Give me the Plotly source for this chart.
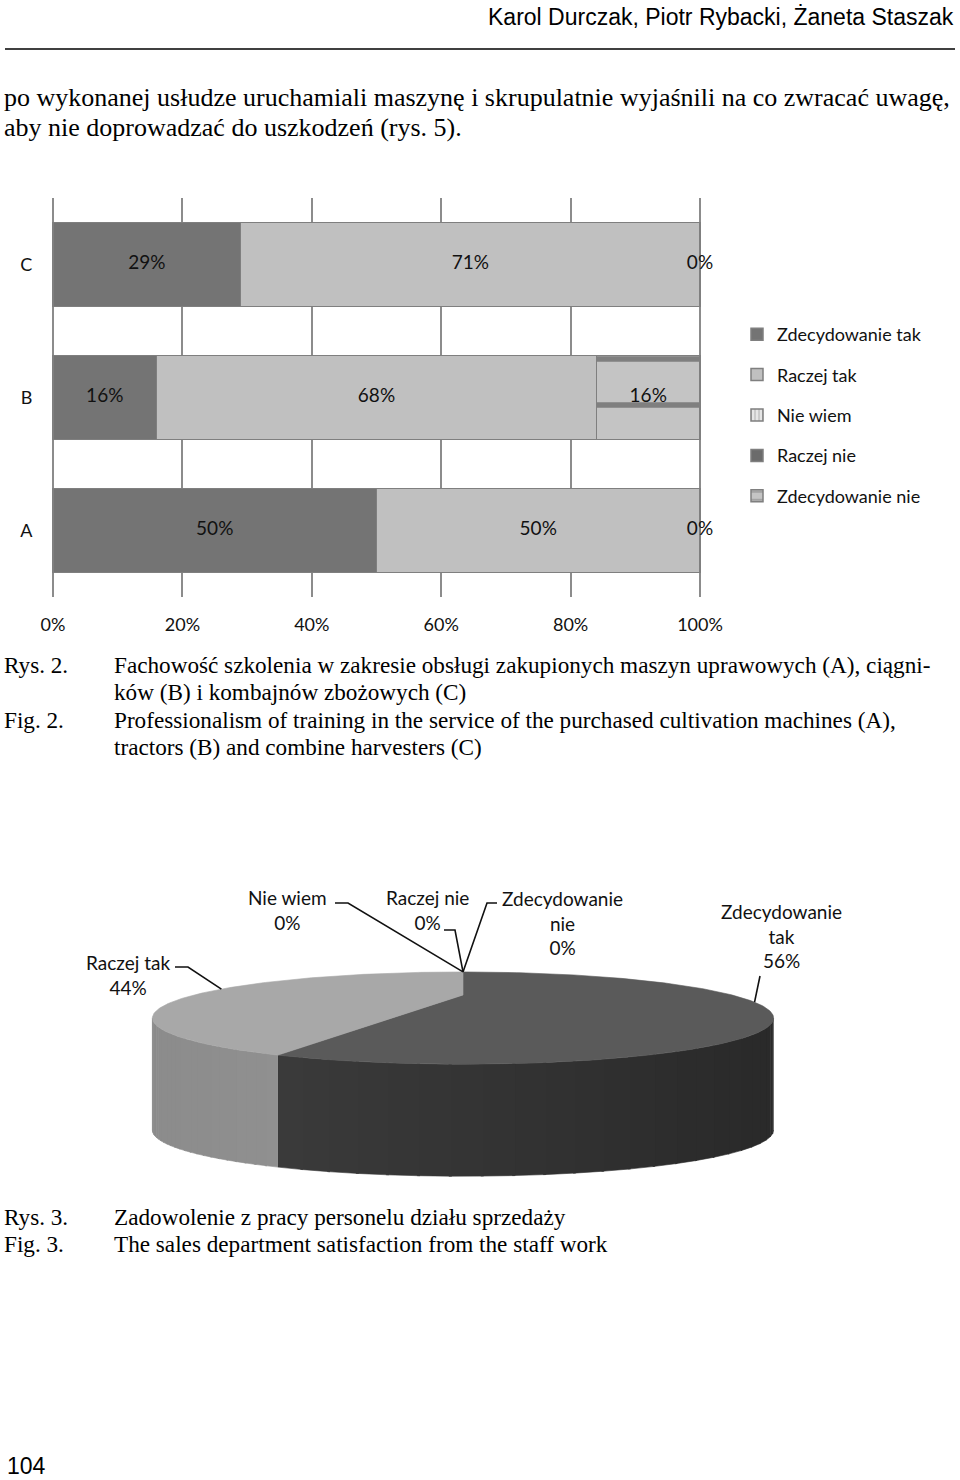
import numpy as np
import plotly.graph_objects as go

# ---------------- data ----------------
categories = ["A", "B", "C"]
series_names = ["Zdecydowanie tak", "Raczej tak", "Nie wiem", "Raczej nie", "Zdecydowanie nie"]
zdecydowanie_tak = [50, 16, 29]
raczej_tak = [50, 68, 71]
nie_wiem = [0, 0, 0]
raczej_nie = [0, 0, 0]
zdecydowanie_nie = [0, 16, 0]
labelled_series = ["Zdecydowanie tak", "Raczej tak", "Zdecydowanie nie"]
x_tick_values = [0, 20, 40, 60, 80, 100]
x_tick_labels = ["0%", "20%", "40%", "60%", "80%", "100%"]

pie_labels = ["Zdecydowanie tak", "Raczej tak", "Nie wiem", "Raczej nie", "Zdecydowanie nie"]
pie_values = [56, 44, 0, 0, 0]

header_text = "Karol Durczak, Piotr Rybacki, Żaneta Staszak"
body_lines = ["po wykonanej usłudze uruchamiali maszynę i skrupulatnie wyjaśnili na co zwracać uwagę,",
              "aby nie doprowadzać do uszkodzeń (rys. 5)."]
fig2_caption = ["Fachowość szkolenia w zakresie obsługi zakupionych maszyn uprawowych (A), ciągni-",
                "ków (B) i kombajnów zbożowych (C)",
                "Professionalism of training in the service of the purchased cultivation machines (A),",
                "tractors (B) and combine harvesters (C)"]
fig3_caption = ["Zadowolenie z pracy personelu działu sprzedaży",
                "The sales department satisfaction from the staff work"]
page_number = "104"

# ---------------- styles ----------------
W, H = 960, 1480
SANS = "Lato, Carlito, Calibri, sans-serif"
SERIF = "Liberation Serif, Times New Roman, serif"
NARROW = "Liberation Sans Narrow, Arial Narrow, Liberation Sans, sans-serif"

series_vals = [zdecydowanie_tak, raczej_tak, nie_wiem, raczej_nie, zdecydowanie_nie]
series_markers = [
    dict(color="#747474", line=dict(color="#7f7f7f", width=1.5)),
    dict(color="#c0c0c0", line=dict(color="#7f7f7f", width=1.5)),
    dict(color="#d8d8d8", line=dict(color="#7f7f7f", width=1.5),
         pattern=dict(shape="|", fgcolor="#8a8a8a", bgcolor="#e6e6e6", size=5, solidity=0.3)),
    dict(color="#6b6b6b", line=dict(color="#7f7f7f", width=1.5)),
    dict(color="#c4c4c4", line=dict(color="#7f7f7f", width=1.5),
         pattern=dict(shape="-", fgcolor="#3a3a3a", bgcolor="#c4c4c4", size=46, solidity=0.12)),
]

fig = go.Figure()

# stacked horizontal bars
for i, (name, vals) in enumerate(zip(series_names, series_vals)):
    fig.add_trace(go.Bar(
        y=categories, x=vals, orientation="h", name=name,
        marker=series_markers[i], legendgroup=name,
        hoverinfo="skip", width=0.63))

# bar labels at segment midpoints
cum = np.zeros(len(categories))
for name, vals in zip(series_names, series_vals):
    v = np.array(vals, dtype=float)
    if name in labelled_series:
        fig.add_trace(go.Scatter(
            y=categories, x=cum + v / 2, mode="text",
            text=[f"{int(x)}%" for x in vals], showlegend=False, hoverinfo="skip",
            textfont=dict(family=SANS, size=19, color="#111111"), cliponaxis=False))
    cum = cum + v

# ---------------- 3D-looking elliptical pie ----------------
CX, CY, RA, RB, PERSP, DEPTH = 463, 995, 269, 34.6, 0.5, 112


def proj(phi_deg):
    ph = np.radians(phi_deg)
    u, v = np.sin(ph), np.cos(ph)
    d = 1 + PERSP * v
    return CX + RA * u / d, CY - RB * v / d


pie_top_colors = ["#5a5a5a", "#a8a8a8", "#c8c8c8", "#6b6b6b", "#cccccc"]
pie_side_colors = [("#404040", "#2a2a2a"), ("#8c8c8c", "#a0a0a0"), ("#b0b0b0", "#b0b0b0"),
                   ("#505050", "#505050"), ("#b0b0b0", "#b0b0b0")]
total = float(sum(pie_values))
starts = np.concatenate([[0], np.cumsum(pie_values)[:-1]]) / total * 360
ends = np.cumsum(pie_values) / total * 360
vis_r = np.degrees(np.arccos(-PERSP))
vis_l = 360 - vis_r


def hex2rgb(h):
    return np.array([int(h[i:i + 2], 16) for i in (1, 3, 5)], dtype=float)


# side walls (thin vertical strips for a shading gradient)
for k, (s, e) in enumerate(zip(starts, ends)):
    a0, a1 = max(s, vis_r), min(e, vis_l)
    if a1 <= a0:
        continue
    c0, c1 = hex2rgb(pie_side_colors[k][0]), hex2rgb(pie_side_colors[k][1])
    nstrip = 24
    edges = np.linspace(a0, a1, nstrip + 1)
    for j in range(nstrip):
        ph = np.linspace(edges[j], edges[j + 1] + (0.3 if j < nstrip - 1 else 0), 6)
        xs, ys = proj(ph)
        t = (proj(edges[j])[0] - proj(vis_r)[0]) / (proj(vis_l)[0] - proj(vis_r)[0])
        col = c1 + (c0 - c1) * t
        colstr = "rgb(%d,%d,%d)" % tuple(col)
        px = np.concatenate([xs, xs[::-1]])
        py = np.concatenate([ys, (ys + DEPTH)[::-1]])
        fig.add_trace(go.Scatter(x=px, y=py, xaxis="x2", yaxis="y2", mode="lines",
                                 fill="toself", fillcolor=colstr,
                                 line=dict(color=colstr, width=0.6),
                                 showlegend=False, hoverinfo="skip"))

# top surfaces
for k, (s, e) in enumerate(zip(starts, ends)):
    if e - s <= 0:
        continue
    ph = np.linspace(s, e, 200)
    xs, ys = proj(ph)
    px = np.concatenate([[CX], xs, [CX]])
    py = np.concatenate([[CY], ys, [CY]])
    fig.add_trace(go.Scatter(x=px, y=py, xaxis="x2", yaxis="y2", mode="lines",
                             fill="toself", fillcolor=pie_top_colors[k],
                             line=dict(color=pie_top_colors[k], width=0.6),
                             showlegend=False, hoverinfo="skip"))

# pie labels and leader lines
label_pos = [(781, 936), (128, 975), (287, 910), (427, 910), (562, 923)]
leader_start = [[(760, 976)], [(175, 967), (188, 967)], [(335, 903), (348, 903)],
                [(444, 930), (455, 930)], [(497, 903), (487, 903)]]
mids = (starts + ends) / 2
for k, lab in enumerate(pie_labels):
    txt = lab.replace(" ", "<br>") if len(lab) > 12 else lab
    fig.add_annotation(x=label_pos[k][0], y=label_pos[k][1], xref="x2", yref="y2",
                       text=f"{txt}<br>{pie_values[k]}%", showarrow=False,
                       font=dict(family=SANS, size=19, color="#111111"),
                       xanchor="center", yanchor="middle", align="center")
    ex, ey = proj(mids[k])
    pts = leader_start[k] + [(float(ex), float(ey))]
    fig.add_trace(go.Scatter(x=[p[0] for p in pts], y=[p[1] for p in pts], xaxis="x2", yaxis="y2",
                             mode="lines", line=dict(color="#111111", width=1.6),
                             showlegend=False, hoverinfo="skip"))


# ---------------- page text ----------------
def txt(x, y, s, font, size, anchor="left"):
    fig.add_annotation(x=x, y=y, xref="x2", yref="y2", text=s, showarrow=False,
                       font=dict(family=font, size=size, color="#000000"),
                       xanchor=anchor, yanchor="middle")


txt(956, 17, header_text, NARROW, 23, "right")
txt(2, 97, body_lines[0], SERIF, 26)
txt(2, 127, body_lines[1], SERIF, 26)
txt(2, 665, "Rys. 2.", SERIF, 23.2)
txt(2, 720, "Fig. 2.", SERIF, 23.2)
for i, line in enumerate(fig2_caption):
    txt(112, [665, 692, 720, 747][i], line, SERIF, 23.2)
txt(2, 1217, "Rys. 3.", SERIF, 23.2)
txt(2, 1244, "Fig. 3.", SERIF, 23.2)
txt(112, 1217, fig3_caption[0], SERIF, 23.2)
txt(112, 1244, fig3_caption[1], SERIF, 23.2)
txt(5, 1466, page_number, "Liberation Sans, Arial, sans-serif", 23)

fig.add_shape(type="line", xref="x2", yref="y2", x0=5, x1=955, y0=49, y1=49,
              line=dict(color="#000000", width=1.5))

# ---------------- layout ----------------
PAD = 0.25  # small range padding so grid lines at 0% and 100% are drawn
px_per_unit = (700 - 53) / 100.0
fig.update_layout(
    width=W, height=H, margin=dict(l=0, r=0, t=0, b=0, autoexpand=False),
    paper_bgcolor="white", plot_bgcolor="rgba(0,0,0,0)",
    barmode="stack", bargap=0.37,
    xaxis=dict(domain=[(53 - PAD * px_per_unit) / W, (700 + PAD * px_per_unit) / W],
               range=[-PAD, 100 + PAD], tickvals=x_tick_values, ticktext=x_tick_labels,
               showgrid=True, gridcolor="#8c8c8c", gridwidth=2,
               zeroline=False, showline=False, ticks="", ticklabelstandoff=15,
               tickfont=dict(family=SANS, size=18, color="#111111"), fixedrange=True),
    yaxis=dict(domain=[1 - 597 / H, 1 - 198 / H], categoryorder="array",
               categoryarray=categories, showgrid=False, zeroline=False, showline=False,
               ticks="", ticklabelstandoff=18,
               tickfont=dict(family=SANS, size=18, color="#111111"), fixedrange=True),
    xaxis2=dict(domain=[0, 1], range=[0, W], visible=False, anchor="y2", fixedrange=True),
    yaxis2=dict(domain=[0, 1], range=[H, 0], visible=False, anchor="x2", fixedrange=True),
    legend=dict(x=737 / W, y=1 - 316 / H, xanchor="left", yanchor="top",
                font=dict(family=SANS, size=18, color="#111111"),
                traceorder="grouped", tracegroupgap=14, bgcolor="rgba(0,0,0,0)"),
    showlegend=True,
)

fig.write_html("out.html", config={"displayModeBar": False},
               post_script="document.body.style.margin='0';document.body.style.overflow='hidden';")
